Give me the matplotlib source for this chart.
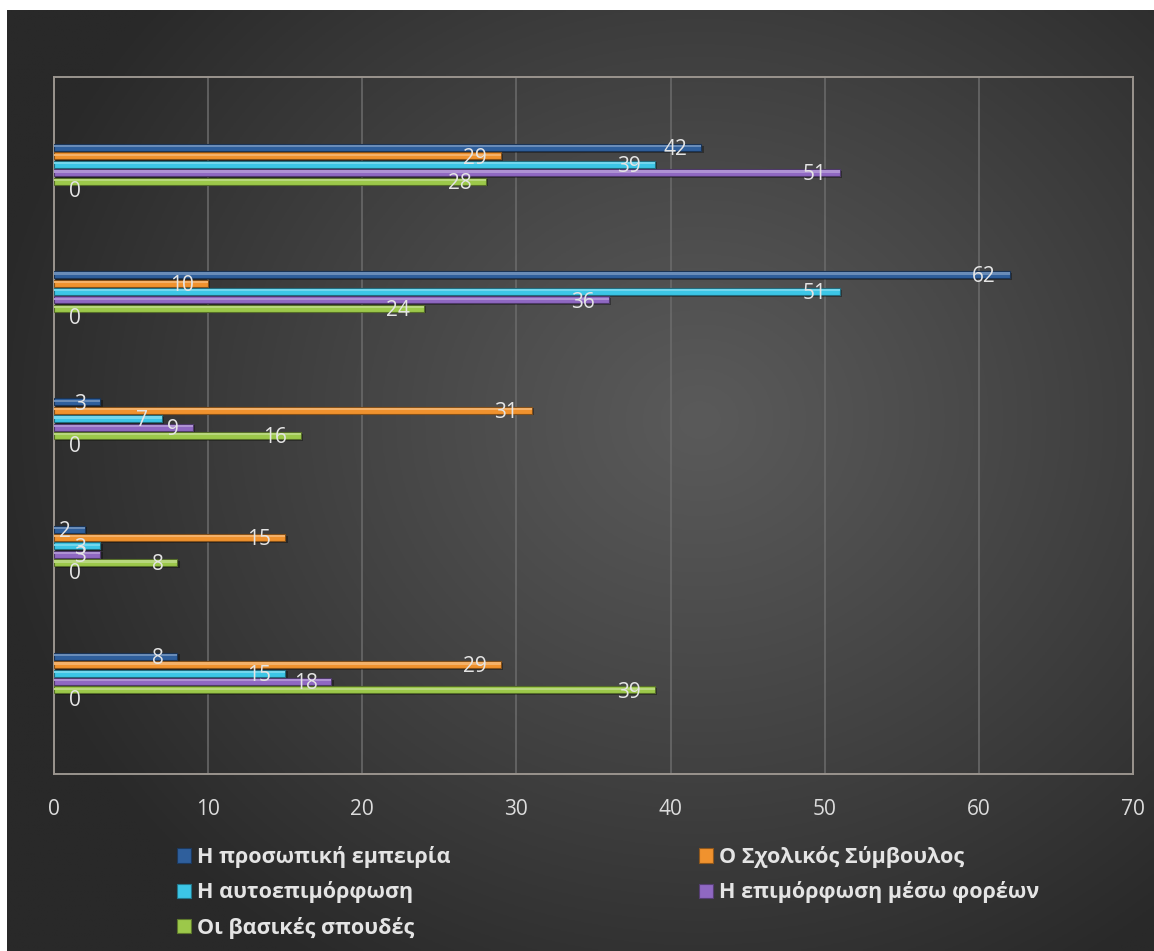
import numpy as np
import matplotlib
matplotlib.use("Agg")
import matplotlib.pyplot as plt
from matplotlib.patches import Patch
from matplotlib.colors import to_rgb

plt.rcParams['font.family'] = ['Open Sans', 'DejaVu Sans']

# Categories from top to bottom (no axis labels are drawn for them)
categories = ["A", "B", "C", "D", "E"]

series_names = [
    "Η προσωπική εμπειρία",
    "Ο Σχολικός Σύμβουλος",
    "Η αυτοεπιμόρφωση",
    "Η επιμόρφωση μέσω φορέων",
    "Οι βασικές σπουδές",
]
personal_experience = [42, 62, 3, 2, 8]
school_advisor = [29, 10, 31, 15, 29]
self_training = [39, 51, 7, 3, 15]
institutional_training = [51, 36, 9, 3, 18]
basic_studies = [28, 24, 16, 8, 39]
unnamed_series = [0, 0, 0, 0, 0]

x_ticks = [0, 10, 20, 30, 40, 50, 60, 70]

series_values = [personal_experience, school_advisor, self_training,
                 institutional_training, basic_studies, unnamed_series]
colors = ["#2f5f9c", "#f0922e", "#3cc6e6", "#8f68c2", "#9cc84a", "#888888"]

W, H = 1154, 951
fig = plt.figure(figsize=(W / 100, H / 100), dpi=100)
fig.patch.set_facecolor("white")

# Radial gradient backdrop
bg = fig.add_axes([7 / W, 0, 1 - 7 / W, 1 - 10 / H])
bg.set_axis_off()
gx, gy = np.meshgrid(np.linspace(7, W, 400), np.linspace(10, H, 340))
cx, cy = 700, 420
r = np.sqrt(((gx - cx) / 1.0) ** 2 + ((gy - cy) / 0.9) ** 2)
t = np.clip(r / 720, 0, 1) ** 1.1
c_in, c_out = 0x5a, 0x29
val = (c_in + (c_out - c_in) * t) / 255
img = np.dstack([val, val, val])
bg.imshow(img, extent=[0, 1, 0, 1], aspect="auto", origin="upper")
bg.set_xlim(0, 1)
bg.set_ylim(0, 1)

# Plot area
left, right, top, bottom = 54, 1133, 77, 774
ax = fig.add_axes([left / W, 1 - bottom / H, (right - left) / W, (bottom - top) / H])
ax.set_facecolor("none")
ax.set_xlim(0, 70)
ax.set_ylim(4.76, -0.72)
ax.set_xticks(x_ticks)
ax.set_xticklabels([str(v) for v in x_ticks], fontsize=15, color="#dcdcdc")
ax.tick_params(axis="x", length=0, pad=18)
ax.set_yticks([])
ax.xaxis.grid(True, color="#6c6c6c", linewidth=1.1)
ax.set_axisbelow(True)
for s in ax.spines.values():
    s.set_color("#9a948e")
    s.set_linewidth(1.4)

slot = 0.066
bar_h = 0.055
n = len(series_values)
y_base = np.arange(len(categories))


def shade(c, f):
    rgb = np.array(to_rgb(c))
    if f >= 0:
        return tuple(rgb + (1 - rgb) * f)
    return tuple(rgb * (1 + f))


for k, (vals, col) in enumerate(zip(series_values, colors)):
    ys = y_base + (k - (n - 1) / 2) * slot
    if k < 5:
        # drop shadow
        ax.barh(ys + 0.012, vals, height=bar_h, left=0.15, color="black",
                alpha=0.35, linewidth=0, zorder=2)
        ax.barh(ys, vals, height=bar_h, color=col, edgecolor=shade(col, -0.45),
                linewidth=0.8, zorder=3)
        # top highlight strip for a bevelled look
        ax.barh(ys - bar_h * 0.18, vals, height=bar_h * 0.3,
                color=shade(col, 0.28), linewidth=0, zorder=4)
    for y, v in zip(ys, vals):
        if v > 0:
            ax.annotate(str(v), (v, y), xytext=(-10, -1.5), textcoords="offset points",
                        ha="right", va="center", fontsize=15, color="#e4e4e4", zorder=6)
        else:
            ax.annotate(str(v), (0, y), xytext=(10.5, -1.5), textcoords="offset points",
                        ha="left", va="center", fontsize=15, color="#e4e4e4", zorder=6)

# Legend: rows of two entries
order = [0, 2, 4, 1, 3]
handles = [Patch(facecolor=colors[i], edgecolor=shade(colors[i], -0.4), linewidth=0.8)
           for i in order]
labels = [series_names[i] for i in order]
leg = fig.legend(handles, labels, ncol=2, loc="upper left",
                 bbox_to_anchor=(177 / W, 1 - 846 / H),
                 frameon=False, fontsize=15.5, handlelength=0.65, handleheight=0.65,
                 handletextpad=0.3, columnspacing=11.5, labelspacing=0.62,
                 borderaxespad=0, borderpad=0)
for txt in leg.get_texts():
    txt.set_color("#e4e4e4")
    txt.set_fontweight("bold")

fig.savefig("out.png", dpi=100, facecolor=fig.get_facecolor())
